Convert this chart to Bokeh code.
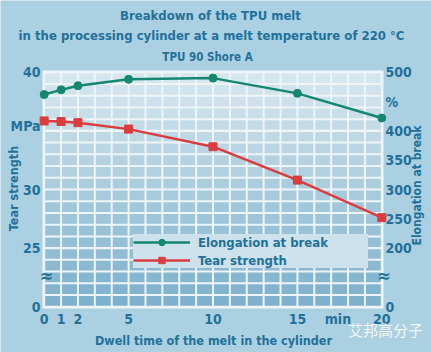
import math
from bokeh.plotting import figure
from bokeh.models import Range1d, LinearAxis, FixedTicker, Label, Legend, LegendItem
from bokeh.embed import file_html
from bokeh.resources import INLINE

# ---------------- data ----------------
dwell_time = [0, 1, 2, 5, 10, 15, 20]                      # min
elongation = [462, 470, 477, 488, 490, 464, 422]           # %
tear_strength = [35.85, 35.8, 35.7, 35.15, 33.65, 30.8, 27.6]  # MPa

x_ticks = [0, 1, 2, 5, 10, 15, 17.4, 20]
x_tick_overrides = {17.4: "min"}
left_ticks = [20, 25, 30, 35.4, 40]
left_tick_overrides = {20: "0", 35.4: "MPa"}
right_ticks = [100, 200, 250, 300, 350, 400, 450, 500]
right_tick_overrides = {100: "0", 450: "%"}

title_lines = ["Breakdown of the TPU melt",
               "in the processing cylinder at a melt temperature of 220 \u00b0C",
               "TPU 90 Shore A"]
x_label = "Dwell time of the melt in the cylinder"
left_label = "Tear strength"
right_label = "Elongation at break"
series_names = ["Elongation at break", "Tear strength"]
watermark = "\u827e\u90a6\u9ad8\u5206\u5b50"

# ---------------- style ----------------
FONT = "DejaVu Sans Condensed, Liberation Sans"
TXT = "#22719a"
GREEN = "#14876f"
RED = "#d93d3e"
BG = "#abd0e1"

# plot region (data) spans x -0.1..20.1, y 19.85..40.15; the ranges add the margins
X0, X1, Y0, Y1 = -0.1, 20.1, 19.85, 40.15
W, H = 431, 352
L, R, T, B = 42, 48, 70, 44
kx = (W - L - R) / (X1 - X0)
ky = (H - T - B) / (Y1 - Y0)
p = figure(width=W, height=H,
           x_range=Range1d(X0 - L / kx, X1 + R / kx),
           y_range=Range1d(Y0 - B / ky, Y1 + T / ky),
           output_backend="svg", toolbar_location=None,
           min_border=0, min_border_left=0, min_border_right=0, min_border_top=0, min_border_bottom=0)
el_lo = 200 + (p.y_range.start - 25) * 20
el_hi = 200 + (p.y_range.end - 25) * 20
p.extra_y_ranges = {"el": Range1d(el_lo, el_hi)}
p.border_fill_color = BG
p.background_fill_color = BG
p.outline_line_color = None
p.xgrid.visible = False
p.ygrid.visible = False

# white plot area, then gradient cells (white gaps form the grid)
p.quad(left=[X0], right=[X1], bottom=[Y0], top=[Y1], fill_color="#eef5f8", line_color=None)

def mix(c1, c2, t):
    a = [int(c1[i:i + 2], 16) for i in (1, 3, 5)]
    b = [int(c2[i:i + 2], 16) for i in (1, 3, 5)]
    return "#%02x%02x%02x" % tuple(int(round(a[k] + (b[k] - a[k]) * t)) for k in range(3))

cx, cy, cc = [], [], []
for j in range(20):
    col = mix("#7db1cd", "#d6e6ee", j / 19.0)
    for i in range(20):
        cx.append(i + 0.5)
        cy.append(20 + j + 0.5)
        cc.append(col)
p.rect(cx, cy, width=14.9, height=9.7, width_units="screen", height_units="screen",
       fill_color=cc, line_color=None)

# axes, pinned to the edges of the plot region
ax = p.xaxis[0]
ax.ticker = FixedTicker(ticks=x_ticks)
ax.major_label_overrides = x_tick_overrides
ax.fixed_location = Y0
ay = p.yaxis[0]
ay.ticker = FixedTicker(ticks=left_ticks)
ay.major_label_overrides = left_tick_overrides
ay.fixed_location = X0
ar = LinearAxis(y_range_name="el", ticker=FixedTicker(ticks=right_ticks),
                major_label_overrides=right_tick_overrides, fixed_location=X1)
p.add_layout(ar, "right")
for a in (ax, ay, ar):
    a.axis_line_color = None
    a.major_tick_line_color = None
    a.minor_tick_line_color = None
    a.major_tick_out = 0
    a.major_tick_in = 0
    a.major_label_standoff = 2
    a.major_label_text_font = FONT
    a.major_label_text_font_style = "bold"
    a.major_label_text_font_size = "14px"
    a.major_label_text_color = TXT

# series
gl = p.line(dwell_time, elongation, y_range_name="el", line_color=GREEN, line_width=2.5)
gs = p.scatter(dwell_time, elongation, y_range_name="el", marker="circle", size=8,
               fill_color=GREEN, line_color=GREEN)
rl = p.line(dwell_time, tear_strength, line_color=RED, line_width=2.5)
rs = p.scatter(dwell_time, tear_strength, marker="square", size=8, fill_color=RED, line_color=RED)

legend = Legend(items=[LegendItem(label=series_names[0], renderers=[gl, gs]),
                       LegendItem(label=series_names[1], renderers=[rl, rs])],
                location=(133, 84))
legend.background_fill_color = "#cde2ec"
legend.background_fill_alpha = 1.0
legend.border_line_color = None
legend.label_text_font = FONT
legend.label_text_font_style = "bold"
legend.label_text_font_size = "13px"
legend.label_text_color = TXT
legend.glyph_width = 57
legend.glyph_height = 16
legend.label_height = 16
legend.label_width = 170
legend.spacing = 2
legend.padding = 3
legend.margin = 0
legend.label_standoff = 8
p.add_layout(legend)

# free texts, in canvas pixels from the bottom-left corner
def lab(px, py, text, size, angle=0.0, color=TXT, font=FONT, style="bold"):
    p.add_layout(Label(x=px, y=H - py, text=text, text_font=font, text_font_style=style,
                       text_font_size=size, text_color=color, text_align="center",
                       text_baseline="middle", angle=angle, x_units="screen", y_units="screen",
                       level="overlay"))

lab(210, 15, title_lines[0], "13px")
lab(211, 35, title_lines[1], "13px")
lab(207, 56, title_lines[2], "11.5px")
lab(213, 340, x_label, "12.5px")
lab(12.7, 188, left_label, "12.5px", angle=math.pi / 2)
lab(416, 185, right_label, "12px", angle=math.pi / 2)
lab(46, 275, "\u2248", "18px")
lab(383.5, 275, "\u2248", "18px")
lab(385, 329, watermark, "15px", color="#f3f6f8", font="Noto Sans CJK SC", style="normal")

open("out.html", "w").write(file_html(p, INLINE))
